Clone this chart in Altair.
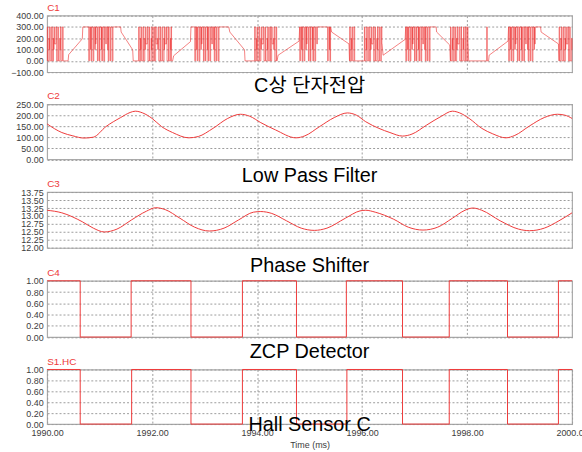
import altair as alt
import pandas as pd

# ---- shared styling -------------------------------------------------------
RED = "#ee3a3a"
GRID = "#9c9c9c"
FRAME = "#aaaaaa"
SMALL_FONT = "Liberation Sans, Arial"
BIG_FONT = "Liberation Sans, Arial, Noto Sans CJK KR"
PLOT_W = 529

T_DOMAIN = [1990.0, 2000.0]
T_TICKS = [1990.0, 1992.0, 1994.0, 1996.0, 1998.0, 2000.0]
T_GRID = [1992.0, 1994.0, 1996.0, 1998.0]

# ---- C1: phase-C terminal voltage (segments of the switching waveform) ----
c1_kind = ["pwm", "flat", "ramp", "flat", "pwm", "flat", "ramp", "flat", "pwm",
           "ramp", "flat", "pwm", "flat", "ramp", "flat", "pwm",
           "ramp", "pwm", "flat", "pwm", "ramp", "pwm", "flat", "pwm",
           "ramp", "pwm", "flat", "ramp", "pwm", "flat", "pwm",
           "ramp", "pwm", "flat", "ramp", "pwm"]
c1_t0 = [1990.00, 1990.32, 1990.41, 1990.68, 1990.79, 1991.28, 1991.41, 1991.64, 1991.74,
         1992.41, 1992.74, 1992.81, 1993.31, 1993.48, 1993.77, 1993.95,
         1994.40, 1994.81, 1995.18, 1995.34, 1995.42, 1995.76, 1995.89, 1996.04,
         1996.40, 1996.83, 1997.33, 1997.42, 1997.68, 1998.03, 1998.37,
         1998.42, 1998.79, 1999.33, 1999.41, 1999.75]
c1_t1 = [1990.31, 1990.40, 1990.67, 1990.78, 1991.27, 1991.40, 1991.63, 1991.74, 1992.39,
         1992.73, 1992.80, 1993.30, 1993.46, 1993.76, 1993.94, 1994.38,
         1994.80, 1995.17, 1995.33, 1995.40, 1995.75, 1995.88, 1996.03, 1996.38,
         1996.82, 1997.32, 1997.41, 1997.67, 1998.02, 1998.37, 1998.41,
         1998.78, 1999.32, 1999.40, 1999.74, 2000.00]
c1_v0 = [0, 0, 55, 300, 300, 300, 255, 0, 0,
         45, 300, 300, 300, 255, 0, 0,
         50, 300, 300, 300, 255, 0, 0, 0,
         50, 300, 300, 255, 0, 0, 0,
         50, 300, 300, 255, 0]
c1_v1 = [0, 0, 195, 300, 300, 300, 98, 0, 0,
         170, 300, 300, 300, 98, 0, 0,
         175, 300, 300, 300, 150, 0, 0, 0,
         190, 300, 300, 140, 0, 0, 0,
         175, 300, 300, 150, 0]

# chopping pulses inside a PWM block: offset from block start (ms), width (ms),
# the level a pulse reaches, and the level the terminal sits at after it
chop_start = [0.004, 0.038, 0.047, 0.085, 0.121, 0.130, 0.168, 0.205, 0.243, 0.252,
              0.290, 0.327, 0.365, 0.374, 0.412, 0.450, 0.487, 0.496, 0.534, 0.572,
              0.610, 0.619, 0.657, 0.690]
chop_width = [0.010, 0.004, 0.012, 0.014, 0.004, 0.011, 0.013, 0.009, 0.004, 0.012,
              0.015, 0.010, 0.004, 0.013, 0.011, 0.014, 0.004, 0.012, 0.010, 0.013,
              0.004, 0.011, 0.014, 0.008]
chop_high = [300, 200, 300, 300, 200, 300, 300, 300, 200, 300,
             300, 300, 200, 300, 300, 300, 200, 300, 300, 300,
             200, 300, 300, 300]
chop_level = [0, 100, 0, 0, 100, 150, 0, 0, 100, 0,
              0, 150, 100, 0, 0, 0, 100, 150, 0, 0,
              100, 0, 0, 0]

# ---- C2: low pass filter output --------------------------------------------
c2_t = [1990.00, 1990.28, 1990.49, 1990.70, 1990.88, 1991.12, 1991.40, 1991.58, 1991.68, 1991.82,
        1992.00, 1992.18, 1992.39, 1992.70, 1992.88, 1993.16, 1993.44, 1993.68, 1993.86, 1994.07,
        1994.35, 1994.74, 1994.91, 1995.19, 1995.47, 1995.72, 1995.89, 1996.07, 1996.32, 1996.53,
        1996.77, 1996.95, 1997.23, 1997.51, 1997.72, 1997.86, 1998.04, 1998.28, 1998.49, 1998.74,
        1998.91, 1999.19, 1999.47, 1999.72, 1999.86, 2000.00]
c2_v = [161, 122, 107, 97, 101, 149, 190, 213, 219, 211,
        186, 149, 122, 98, 104, 141, 186, 205, 196, 167,
        134, 98, 107, 149, 190, 211, 201, 171, 141, 122,
        106, 115, 156, 196, 219, 211, 186, 141, 116, 98,
        109, 152, 190, 205, 201, 186]

# ---- C3: phase shifter output ----------------------------------------------
c3_t = [1990.00, 1990.28, 1990.67, 1990.88, 1991.09, 1991.33, 1991.61, 1991.89, 1992.07, 1992.25,
        1992.53, 1992.81, 1993.09, 1993.37, 1993.65, 1993.93, 1994.07, 1994.28, 1994.56, 1994.84,
        1995.09, 1995.33, 1995.68, 1995.96, 1996.07, 1996.25, 1996.60, 1996.88, 1997.16, 1997.44,
        1997.72, 1997.96, 1998.11, 1998.28, 1998.63, 1998.98, 1999.19, 1999.47, 1999.75, 2000.00]
c3_v = [13.18, 13.10, 12.82, 12.62, 12.50, 12.59, 12.88, 13.15, 13.26, 13.20,
        12.93, 12.65, 12.53, 12.62, 12.88, 13.12, 13.14, 13.08, 12.85, 12.62,
        12.55, 12.62, 12.93, 13.16, 13.18, 13.12, 12.90, 12.65, 12.56, 12.65,
        12.93, 13.18, 13.25, 13.18, 12.85, 12.59, 12.54, 12.62, 12.85, 13.10]

# ---- C4: ZCP detector / S1.HC: hall sensor C (edge times, ms) ---------------
c4_fall = [1990.63, 1992.74, 1994.75, 1996.77, 1998.77]
c4_rise = [1991.60, 1993.72, 1995.70, 1997.66, 1999.74]
hc_fall = [1990.63, 1992.74, 1994.75, 1996.77, 1998.77]
hc_rise = [1991.61, 1993.72, 1995.71, 1997.66, 1999.74]


def pwm_points(t0, t1, base):
    pts = [(t0, base)]
    rest = base
    for s, w, hi, lv in zip(chop_start, chop_width, chop_high, chop_level):
        a, b = t0 + s, t0 + s + w
        if b > t1:
            break
        if base == 0:
            pts += [(a, rest), (a, hi), (b, hi), (b, lv)]
            rest = lv
        else:
            pts += [(a, 300), (a, lv), (b, lv), (b, 300)]
    pts.append((t1, rest))
    return pts


def c1_frame():
    pts = []
    for kind, t0, t1, v0, v1 in zip(c1_kind, c1_t0, c1_t1, c1_v0, c1_v1):
        if kind == "pwm":
            pts += pwm_points(t0, t1, v0)
        else:
            pts += [(t0, v0), (t1, v1)]
    return pd.DataFrame({"t": [p[0] for p in pts], "v": [p[1] for p in pts],
                         "i": range(len(pts))})


def square_frame(fall, rise):
    edges = sorted([(t, 0) for t in fall] + [(t, 1) for t in rise])
    pts = [(T_DOMAIN[0], 1)]
    cur = 1
    for t, new in edges:
        pts += [(t, cur), (t, new)]
        cur = new
    pts.append((T_DOMAIN[1], cur))
    return pd.DataFrame({"t": [p[0] for p in pts], "v": [p[1] for p in pts],
                         "i": range(len(pts))})


def panel(df, label, caption, y_dom, y_vals, height, last=False,
          interp="linear", caption_dy=16, stroke_w=1.0, stroke_op=1.0):
    x_axis = alt.Axis(
        values=T_TICKS if last else T_GRID, labels=last, format=".2f",
        ticks=False, domain=False, grid=True, gridDash=[2, 2], gridColor=GRID,
        gridWidth=1, labelPadding=5, labelFlush=False, labelOverlap=False,
        title="Time (ms)" if last else None, titlePadding=3,
    )
    y_axis = alt.Axis(
        values=y_vals, format=".2f", ticks=False, domain=False, grid=True,
        gridDash=[2, 2], gridColor=GRID, gridWidth=1, labelPadding=4,
        labelOverlap=False, title=None,
    )
    line = alt.Chart(df).mark_line(
        color=RED, strokeWidth=stroke_w, strokeOpacity=stroke_op, interpolate=interp,
    ).encode(
        x=alt.X("t:Q", scale=alt.Scale(domain=T_DOMAIN, nice=False, zero=False), axis=x_axis),
        y=alt.Y("v:Q", scale=alt.Scale(domain=y_dom, nice=False, zero=False), axis=y_axis),
        order="i:Q",
    )
    tag = alt.Chart(pd.DataFrame({"s": [label]})).mark_text(
        align="left", baseline="middle", font=SMALL_FONT, fontSize=10, color=RED,
    ).encode(text="s:N", x=alt.value(0), y=alt.value(-8))
    cap = alt.Chart(pd.DataFrame({"s": [caption]})).mark_text(
        align="center", baseline="middle", font=BIG_FONT, fontSize=20, color="#000000",
    ).encode(text="s:N", x=alt.value(PLOT_W / 2), y=alt.value(height + caption_dy))
    return alt.layer(line, tag, cap).properties(width=PLOT_W, height=height)


p1 = panel(c1_frame(), "C1", "C상 단자전압", [-100, 400],
           [-100, 0, 100, 200, 300, 400], 57, caption_dy=14,
           stroke_w=0.8, stroke_op=0.8)
p2 = panel(pd.DataFrame({"t": c2_t, "v": c2_v, "i": range(len(c2_t))}), "C2",
           "Low Pass Filter", [0, 250], [0, 50, 100, 150, 200, 250], 55.5,
           interp="monotone", caption_dy=17)
p3 = panel(pd.DataFrame({"t": c3_t, "v": c3_v, "i": range(len(c3_t))}), "C3",
           "Phase Shifter", [12, 13.75],
           [12.0, 12.25, 12.5, 12.75, 13.0, 13.25, 13.5, 13.75], 56.3,
           interp="monotone", caption_dy=18)
p4 = panel(square_frame(c4_fall, c4_rise), "C4", "ZCP Detector", [0, 1],
           [0, 0.2, 0.4, 0.6, 0.8, 1.0], 56.7, caption_dy=15)
p5 = panel(square_frame(hc_fall, hc_rise), "S1.HC", "Hall Sensor C", [0, 1],
           [0, 0.2, 0.4, 0.6, 0.8, 1.0], 55, last=True, caption_dy=1)

chart = alt.vconcat(p1, p2, p3, p4, p5, spacing=32.4, bounds="flush").resolve_scale(
    y="independent"
).properties(
    padding={"left": 9.5, "top": 0, "right": -7, "bottom": 0},
    background="#ffffff",
).configure_view(
    stroke=FRAME, strokeWidth=1.2,
).configure_axis(
    labelFont=SMALL_FONT, labelFontSize=9, labelColor="#3c3c3c",
    titleFont=SMALL_FONT, titleFontSize=9, titleFontWeight="normal", titleColor="#3c3c3c",
)

chart.save("out.html", embed_options={"renderer": "svg", "actions": False})
